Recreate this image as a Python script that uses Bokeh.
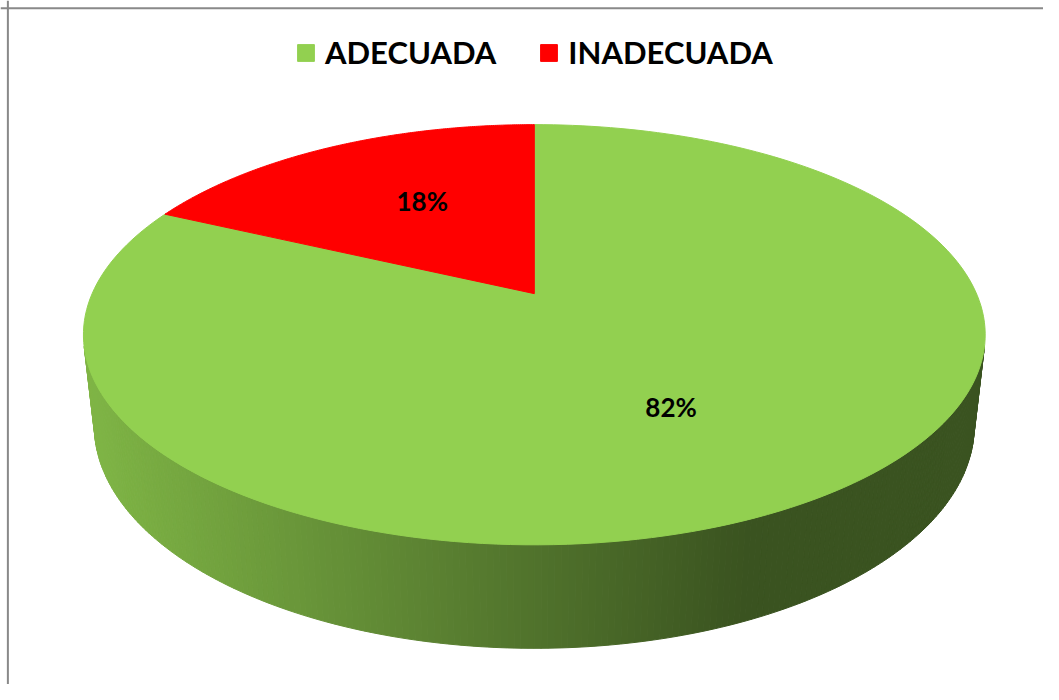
import math
import numpy as np
from bokeh.plotting import figure
from bokeh.models import ColumnDataSource, Range1d, Legend, LegendItem, Span
from bokeh.core.properties import value
from bokeh.embed import file_html
from bokeh.resources import INLINE

# ---------------- data ----------------
categories = ["ADECUADA", "INADECUADA"]
values = [82, 18]
labels = ["82%", "18%"]
colors = ["#92D050", "#FF0000"]

# ---------------- geometry / style ----------------
W, H = 1043, 684
CX, CY = 542.0, 300.0          # pie centre (chart units)
FOCAL = 2038.0
RAD = 0.2203
SINB = 0.4606
COSB = math.sqrt(1 - SINB ** 2)
THICK = 0.0519
FONT = "Lato"


def proj(u, v, z):
    den = 1.0 + RAD * v * COSB - z * SINB
    X = FOCAL * RAD * u / den
    Y = FOCAL * (RAD * v * SINB + z * COSB) / den
    return CX + X, CY - Y


def hex_to_rgb(h):
    h = h.lstrip("#")
    return [int(h[i:i + 2], 16) for i in (0, 2, 4)]


def shade(base, x):
    t = min(max((x - 90.0) / (760.0 - 90.0), 0.0), 1.0)
    f = 0.87 + (0.40 - 0.87) * t
    r, g, b = hex_to_rgb(base)
    return "#%02x%02x%02x" % (int(r * f), int(g * f), int(b * f))


total = float(sum(values))
bounds = np.cumsum([0.0] + [v / total for v in values]) * 2 * math.pi

p = figure(width=W, height=H, output_backend="svg", toolbar_location=None,
           x_axis_type=None, y_axis_type=None, min_border=0,
           x_range=Range1d(0, 1059), y_range=Range1d(700, 0))
p.grid.visible = False
p.outline_line_color = None
p.background_fill_color = "white"

# visible side range (front-facing)
v_sil = -RAD / COSB
phi_lo = math.acos(v_sil)
phi_hi = 2 * math.pi - phi_lo

side_xs, side_ys, side_cols = [], [], []
for i in range(len(values)):
    a, b = max(bounds[i], phi_lo), min(bounds[i + 1], phi_hi)
    if b <= a:
        continue
    n = max(2, int((b - a) / (2 * math.pi) * 500))
    ph = np.linspace(a, b, n + 1)
    for j in range(n):
        p0, p1 = ph[j], ph[j + 1]
        pts = [proj(math.sin(p0), math.cos(p0), 0), proj(math.sin(p1), math.cos(p1), 0),
               proj(math.sin(p1), math.cos(p1), -THICK), proj(math.sin(p0), math.cos(p0), -THICK)]
        side_xs.append([q[0] for q in pts])
        side_ys.append([q[1] for q in pts])
        side_cols.append(shade(colors[i], (pts[0][0] + pts[1][0]) / 2))

p.patches(xs="xs", ys="ys", fill_color="c", line_color="c", line_width=1,
          source=ColumnDataSource(dict(xs=side_xs, ys=side_ys, c=side_cols)))

# top faces
top_xs, top_ys = [], []
for i in range(len(values)):
    ph = np.linspace(bounds[i], bounds[i + 1], 200)
    pts = [proj(0, 0, 0)] + [proj(math.sin(q), math.cos(q), 0) for q in ph]
    top_xs.append([q[0] for q in pts])
    top_ys.append([q[1] for q in pts])

top_src = ColumnDataSource(dict(xs=top_xs, ys=top_ys, c=colors, name=categories))
top_r = p.patches(xs="xs", ys="ys", fill_color="c", line_color="c", line_width=1,
                  source=top_src)

# data labels
lx, ly = [], []
for i in range(len(values)):
    mid = (bounds[i] + bounds[i + 1]) / 2
    x, y = proj(0.52 * math.sin(mid), 0.6 * math.cos(mid), 0)
    lx.append(x)
    ly.append(y)
p.text(x="x", y="y", text="t", source=ColumnDataSource(dict(x=lx, y=ly, t=labels)),
       text_font=value(FONT), text_font_style="bold", text_font_size="26px",
       text_align="center", text_baseline="middle", text_color="black")

# legend
items = [LegendItem(label=categories[i], renderers=[top_r], index=i) for i in range(len(values))]
legend = Legend(items=items, orientation="horizontal", location=(295, 613),
                border_line_color=None, background_fill_alpha=0,
                label_text_font=FONT, label_text_font_style="bold",
                label_text_font_size="31px", label_text_color="black",
                glyph_width=21, glyph_height=21, label_standoff=9, spacing=42,
                padding=0, margin=0, label_height=21)
p.add_layout(legend, "center")

# chart border (left / top)
p.add_layout(Span(location=7.5, dimension="height", line_color="#898989", line_width=2))
p.add_layout(Span(location=8, dimension="width", line_color="#898989", line_width=2))

open("out.html", "w").write(file_html(p, INLINE))
